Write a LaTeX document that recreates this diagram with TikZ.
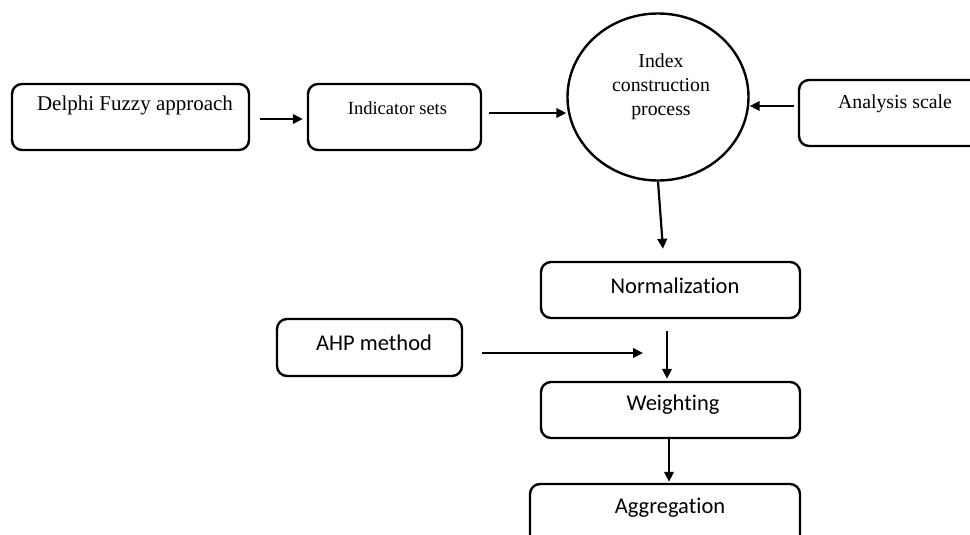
\documentclass[tikz,border=0pt]{standalone}
\usepackage{fontspec}
\setmainfont{Liberation Serif}
\newfontfamily\calfont[Ligatures=NoCommon]{Carlito}
\usetikzlibrary{shapes.geometric,arrows.meta}
\begin{document}
\begin{tikzpicture}[x=1pt,y=-1pt,
  box/.style={draw, line width=2.4pt, rounded corners=10pt, inner sep=0pt},
  oval/.style={draw, line width=2.4pt, ellipse, inner sep=0pt},
  arr/.style={line width=2.2pt, -{Triangle[length=10pt,width=9.5pt]}},
  tms/.style={font=\fontsize{19.8}{24}\selectfont, inner sep=0pt},
  cal/.style={font=\calfont\fontsize{22.5}{27}\selectfont, inner sep=0pt}]
\useasboundingbox (0,0) rectangle (970,535);
\clip (0,0) rectangle (970,535);
% boxes
\node[box, minimum width=237pt, minimum height=66pt] (delphi) at (130.5,117) {};
\node[box, minimum width=173pt, minimum height=66pt] (indicator) at (394.5,117) {};
\node[oval, minimum width=181pt, minimum height=167pt] (circle) at (658,97) {};
\node[box, minimum width=201pt, minimum height=66pt] (analysis) at (899.5,113) {};
\node[box, minimum width=259pt, minimum height=56pt] (norm) at (670.5,290) {};
\node[box, minimum width=185pt, minimum height=57pt] (ahp) at (369.5,347.5) {};
\node[box, minimum width=259pt, minimum height=56pt] (weight) at (670.5,410) {};
\node[box, minimum width=270pt, minimum height=70pt] (aggr) at (665,519) {};
% texts
\node[tms, font=\fontsize{21}{25}\selectfont] (tdelphi) at (135,105) {Delphi Fuzzy approach};
\node[tms, font=\fontsize{18.5}{22}\selectfont] (tind) at (397.5,108) {Indicator sets};
\node[tms, align=center] (tcirc) at (661,87) {Index\\construction\\process};
\node[tms] (tana) at (895,104) {Analysis scale};
\node[cal] (tnorm) at (675,286) {Normalization};
\node[cal] (tahp) at (374,343) {AHP method};
\node[cal] (tweight) at (673,405) {Weighting};
\node[cal] (taggr) at (670,508) {Aggregation};
% connectors
\coordinate (ahpend) at (643,353);
\draw[arr] ([shift={(10,2)}]delphi.east) -- ([shift={(-4,2)}]indicator.west);
\draw[arr] ([shift={(7,-4)}]indicator.east) -- ([shift={(0,16)}]circle.west);
\draw[arr] ([shift={(-4,-7)}]analysis.west) -- ([shift={(0,9)}]circle.east);
\draw[arr] (circle.south) -- ([shift={(-7.5,-12)}]norm.north);
\draw[arr] ([shift={(19,0)}]ahp.east |- ahpend) -- (ahpend);
\draw[arr] ([shift={(-3.5,12)}]norm.south) -- ([shift={(-3.5,-2)}]weight.north);
\draw[arr] ([shift={(-1.5,0)}]weight.south) -- ([shift={(-1.5,-1)}]aggr.north -| weight.south);
\end{tikzpicture}
\end{document}
